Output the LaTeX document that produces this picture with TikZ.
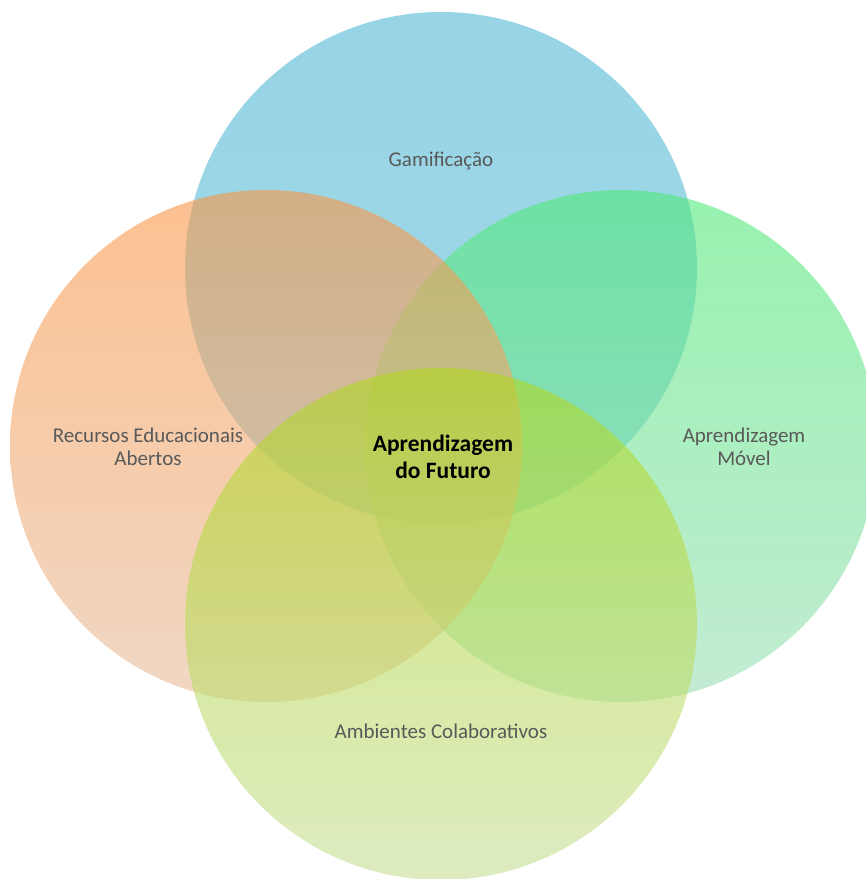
\documentclass[tikz,border=0pt]{standalone}
\usepackage{fontspec}
\setmainfont{Carlito}
\definecolor{labelgray}{RGB}{89,89,89}
% base colours of the four translucent discs (top / bottom of each gradient)
\definecolor{blueTop}{RGB}{80,183,213}
\definecolor{blueBot}{RGB}{100,192,216}
\definecolor{orangeTop}{RGB}{250,150,70}
\definecolor{orangeBot}{RGB}{230,190,158}
\definecolor{greenTop}{RGB}{80,233,120}
\definecolor{greenBot}{RGB}{155,222,182}
\definecolor{limeTop}{RGB}{176,216,32}
\definecolor{limeBot}{RGB}{198,222,150}
\tikzset{
  disc/.style={fill opacity=0.6, draw=none},
  label/.style={font=\fontsize{21}{23}\selectfont, text=labelgray, align=center, inner sep=0pt},
  core/.style={font=\fontsize{23.5}{26.5}\selectfont\bfseries, text=black, align=center, inner sep=0pt}
}
\begin{document}
\begin{tikzpicture}[x=1pt,y=-1pt]
\useasboundingbox (0,0) rectangle (866,879);
% the four overlapping discs, drawn back to front
\shade[disc, top color=blueTop, bottom color=blueBot] (441,268) circle[radius=256pt];
\shade[disc, top color=greenTop, bottom color=greenBot] (621,446) circle[radius=256pt];
\shade[disc, top color=orangeTop, bottom color=orangeBot] (266,446) circle[radius=256pt];
\shade[disc, top color=limeTop, bottom color=limeBot] (441,624) circle[radius=256pt];
% labels
\node[label] (gam) at (441,161) {Gamificação};
\node[label] (rea) at (148,447) {Recursos Educacionais\\Abertos};
\node[label] (mov) at (744,447) {Aprendizagem\\Móvel};
\node[label] (amb) at (441,731) {Ambientes Colaborativos};
\node[core] (fut) at (443,457) {Aprendizagem\\do Futuro};
\end{tikzpicture}
\end{document}
